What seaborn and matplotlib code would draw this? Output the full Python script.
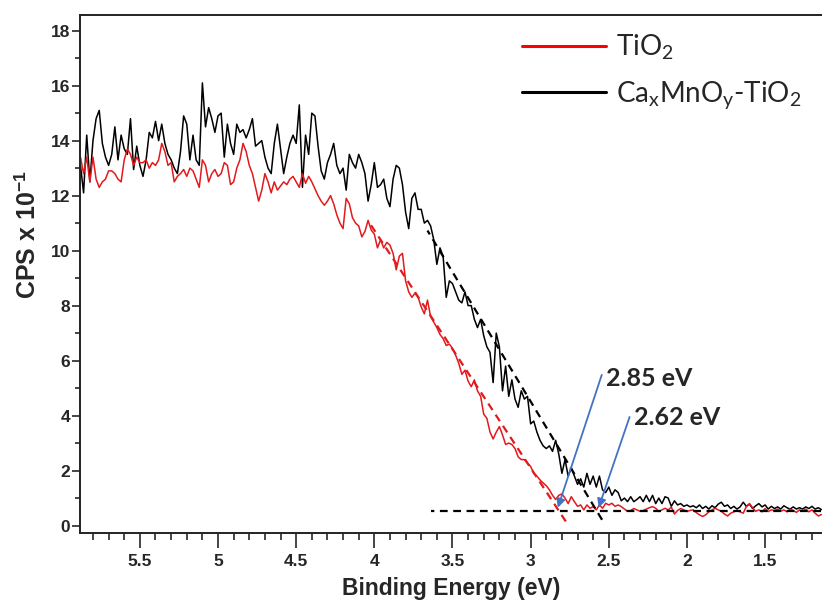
import numpy as np
import pandas as pd
import matplotlib
matplotlib.use("Agg")
import matplotlib.pyplot as plt
from matplotlib.lines import Line2D
from matplotlib.ticker import MultipleLocator
import seaborn as sns

# ---------------- data ----------------
energy = np.linspace(5.88, 1.14, 238)  # binding energy grid (eV)

camno_tio2 = [
    13.1, 12.1, 14.2, 12.5, 14.0, 14.8, 15.1, 13.9, 13.4, 13.1,
    13.5, 14.5, 13.3, 14.2, 13.7, 13.5, 14.8, 12.95, 13.8, 13.1,
    12.7, 13.3, 14.3, 14.1, 14.7, 14.0, 14.6, 13.9, 13.5, 13.3,
    13.0, 12.8, 13.6, 14.9, 14.6, 13.3, 14.2, 13.3, 13.1, 16.1,
    14.5, 15.2, 14.8, 14.3, 14.9, 15.0, 13.4, 14.6, 13.9, 13.5,
    14.6, 14.3, 14.4, 14.1, 14.4, 14.8, 13.8, 13.9, 14.0, 13.4,
    13.0, 12.8, 13.9, 14.6, 13.7, 12.8, 13.4, 13.9, 14.2, 13.9,
    15.3, 12.3, 14.2, 13.5, 15.0, 14.9, 13.8, 12.9, 12.6, 13.2,
    13.5, 13.9, 13.1, 12.8, 13.0, 12.2, 13.5, 13.2, 13.0, 13.5,
    13.2, 12.8, 11.8, 12.4, 13.2, 12.3, 12.4, 12.6, 11.9, 11.6,
    12.6, 13.1, 13.0, 12.4, 11.4, 10.8, 11.9, 12.1, 11.5, 11.5,
    11.0, 11.1, 10.9, 10.4, 9.5, 10.1, 9.8, 8.3, 8.9, 8.8,
    8.5, 8.2, 8.1, 8.5, 8.0, 8.0, 7.5, 7.2, 7.5, 6.9,
    6.5, 6.3, 5.2, 7.0, 6.5, 4.9, 5.8, 4.7, 5.3, 4.6,
    4.3, 4.9, 4.6, 4.7, 3.7, 3.8, 3.4, 3.1, 2.9, 2.8,
    2.9, 2.7, 3.1, 2.6, 1.9, 2.4, 1.8, 2.1, 1.8, 1.5,
    1.7, 1.4, 1.9, 1.5, 1.8, 1.4, 1.8, 1.3, 1.2, 1.4,
    1.1, 1.3, 1.2, 0.9, 1.0, 0.87, 1.05, 0.87, 0.95, 1.05,
    0.87, 1.1, 0.87, 1.1, 0.8, 1.0, 0.8, 1.05, 1.0, 0.7,
    0.9, 0.75, 0.8, 0.7, 0.75, 0.68, 0.72, 0.65, 0.75, 0.62,
    0.7, 0.6, 0.72, 0.65, 0.78, 0.85, 0.7, 0.75, 0.62, 0.7,
    0.6, 0.68, 0.85, 0.7, 0.78, 0.62, 0.72, 0.8, 0.68, 0.75,
    0.6, 0.7, 0.62, 0.68, 0.6, 0.72, 0.65, 0.6, 0.68, 0.6,
    0.65, 0.6, 0.68, 0.62, 0.7, 0.6, 0.65, 0.58,
]

tio2 = [
    13.4, 12.8, 13.4, 12.5, 13.4, 12.6, 12.3, 12.5, 12.6, 12.9,
    12.9, 12.8, 12.6, 12.5, 13.3, 13.7, 13.5, 13.1, 13.4, 13.2,
    13.2, 13.3, 13.0, 13.2, 13.1, 13.3, 13.9, 13.6, 13.1, 13.2,
    12.5, 12.7, 12.8, 12.95, 12.7, 13.0, 12.9, 12.6, 12.3, 13.3,
    13.1, 12.5, 12.8, 12.95, 12.7, 12.8, 13.2, 13.1, 12.4, 12.5,
    13.0, 13.3, 13.9, 13.6, 13.1, 12.8, 12.3, 11.8, 12.2, 12.8,
    12.5, 12.1, 12.5, 12.2, 12.35, 12.5, 12.4, 12.6, 12.7, 12.5,
    12.3, 12.8, 12.45, 12.7, 12.5, 12.25, 12.0, 11.8, 11.65, 11.8,
    12.0, 11.7, 11.3, 11.0, 10.8, 11.9, 11.7, 11.2, 11.0, 10.9,
    10.5, 10.7, 11.1, 10.75, 10.6, 10.1, 10.4, 10.1, 10.3, 10.2,
    9.9, 9.3, 9.8, 9.9, 8.9, 8.5, 8.3, 8.45, 8.3, 7.95,
    7.7, 8.2, 7.6, 7.4, 7.2, 6.95, 6.8, 6.55, 6.6, 6.45,
    6.2, 5.9, 5.5, 5.65, 5.25, 5.05, 5.3, 4.9, 4.7, 4.05,
    3.9, 3.4, 3.15, 3.4, 3.6, 3.3, 2.95, 3.0, 2.95, 2.8,
    2.5, 2.4, 2.4, 2.27, 2.15, 1.9, 1.8, 1.66, 1.55, 1.45,
    1.3, 1.1, 0.95, 1.1, 1.15, 1.0, 0.8, 1.05, 0.87, 0.7,
    0.75, 0.57, 0.75, 0.63, 0.69, 0.57, 0.75, 0.63, 0.81, 0.75,
    0.81, 0.7, 0.75, 0.69, 0.6, 0.52, 0.55, 0.62, 0.57, 0.52,
    0.55, 0.6, 0.65, 0.69, 0.63, 0.51, 0.57, 0.63, 0.57, 0.67,
    0.42, 0.55, 0.62, 0.57, 0.51, 0.55, 0.57, 0.47, 0.39, 0.33,
    0.39, 0.5, 0.57, 0.63, 0.57, 0.52, 0.42, 0.35, 0.45, 0.5,
    0.55, 0.5, 0.45, 0.69, 0.8, 0.65, 0.52, 0.57, 0.5, 0.62,
    0.51, 0.57, 0.55, 0.6, 0.52, 0.57, 0.5, 0.6, 0.55, 0.48,
    0.57, 0.52, 0.6, 0.5, 0.57, 0.45, 0.35, 0.4,
]

# linear extrapolation (Tauc-type) lines
tio2_fit_x = [4.03, 2.775]
tio2_fit_y = [11.0, 0.15]
camno_fit_x = [3.66, 2.543]
camno_fit_y = [10.73, 0.21]
baseline_x = [3.637, 1.14]
baseline_y = [0.535, 0.535]

# annotations
ann_labels = ["2.85 eV", "2.62 eV"]
ann_text_xy = [(2.52, 5.36), (2.341, 3.92)]
ann_tail_xy = [(2.545, 5.48), (2.367, 3.95)]
ann_head_xy = [(2.826, 0.65), (2.565, 0.65)]

series_names = ["TiO2", "CaxMnOy-TiO2"]
legend_labels = [r"TiO$_2$", r"Ca$_\mathrm{x}$MnO$_\mathrm{y}$-TiO$_2$"]
xticks = [5.5, 5, 4.5, 4, 3.5, 3, 2.5, 2, 1.5]
yticks = [0, 2, 4, 6, 8, 10, 12, 14, 16, 18]

# ---------------- style ----------------
sns.set_style("ticks")
plt.rcParams["font.family"] = ["Liberation Sans", "DejaVu Sans"]
plt.rcParams["mathtext.fontset"] = "custom"
plt.rcParams["mathtext.rm"] = "Lato"
plt.rcParams["mathtext.it"] = "Lato:italic"
plt.rcParams["mathtext.bf"] = "Liberation Sans:bold"

df = pd.concat([
    pd.DataFrame({"energy": energy, "cps": camno_tio2, "sample": series_names[1]}),
    pd.DataFrame({"energy": energy, "cps": tio2, "sample": series_names[0]}),
])

fig = plt.figure(figsize=(8.22, 6.01), dpi=100)
ax = fig.add_axes([80 / 822, 68 / 601, 742 / 822, 518.3 / 601])

red = "#e3191c"
sns.lineplot(data=df, x="energy", y="cps", hue="sample",
             palette={series_names[0]: red, series_names[1]: "black"},
             hue_order=[series_names[1], series_names[0]],
             estimator=None, sort=False, linewidth=1.1, legend=False, ax=ax)

sns.lineplot(x=tio2_fit_x, y=tio2_fit_y, color=red, linewidth=1.6,
             linestyle=(0, (3.5, 2.5)), ax=ax)
sns.lineplot(x=camno_fit_x, y=camno_fit_y, color="black", linewidth=1.6,
             linestyle=(0, (3.5, 2.5)), ax=ax)
sns.lineplot(x=baseline_x, y=baseline_y, color="black", linewidth=1.6,
             linestyle=(0, (3.5, 2.5)), ax=ax)

blue = "#4472c4"
for lab, txy, tail, head in zip(ann_labels, ann_text_xy, ann_tail_xy, ann_head_xy):
    ax.annotate("", xy=head, xytext=tail,
                arrowprops=dict(arrowstyle="-|>", color=blue, lw=1.3,
                                mutation_scale=13, shrinkA=0, shrinkB=0))
    ax.text(txy[0], txy[1], lab, fontsize=18, fontweight="bold",
            family=["Lato", "DejaVu Sans"], va="center", ha="left")

ax.set_xlim(5.883, 1.136)
ax.set_ylim(-0.27, 18.58)
ax.set_xticks(xticks)
ax.set_xticklabels([f"{t:g}" for t in xticks])
ax.set_yticks(yticks)
ax.xaxis.set_minor_locator(MultipleLocator(0.1))
ax.yaxis.set_minor_locator(MultipleLocator(1))

for lab in ax.get_xticklabels() + ax.get_yticklabels():
    lab.set_fontweight("bold")
    lab.set_fontsize(12.5)

ax.tick_params(axis="x", which="major", length=11, width=1.2, direction="out", pad=4)
ax.tick_params(axis="x", which="minor", length=5, width=1.2, direction="out")
ax.tick_params(axis="y", which="major", length=6, width=1.2, direction="out", pad=1)
ax.tick_params(axis="y", which="minor", length=3.5, width=1.2, direction="out")

for side in ["left", "bottom", "top"]:
    ax.spines[side].set_linewidth(1.4)
    ax.spines[side].set_color("#222222")
ax.spines["right"].set_visible(False)

ax.set_xlabel("Binding Energy (eV)", fontsize=16.5, fontweight="bold", labelpad=6)
ax.set_ylabel(r"CPS x 10$^{\mathbf{-1}}$", fontsize=18, fontweight="bold")
ax.yaxis.set_label_coords(-0.053, 0.575)

handles = [Line2D([], [], color="#ff0000", lw=2.2), Line2D([], [], color="black", lw=2.2)]
ax.legend(handles, legend_labels, loc="upper left", bbox_to_anchor=(0.596, 0.966),
          frameon=False, borderpad=0, borderaxespad=0, handlelength=3.0,
          handletextpad=0.38, labelspacing=0.62,
          prop={"family": ["Lato", "DejaVu Sans"], "size": 20})

fig.savefig("out.png", dpi=100)
